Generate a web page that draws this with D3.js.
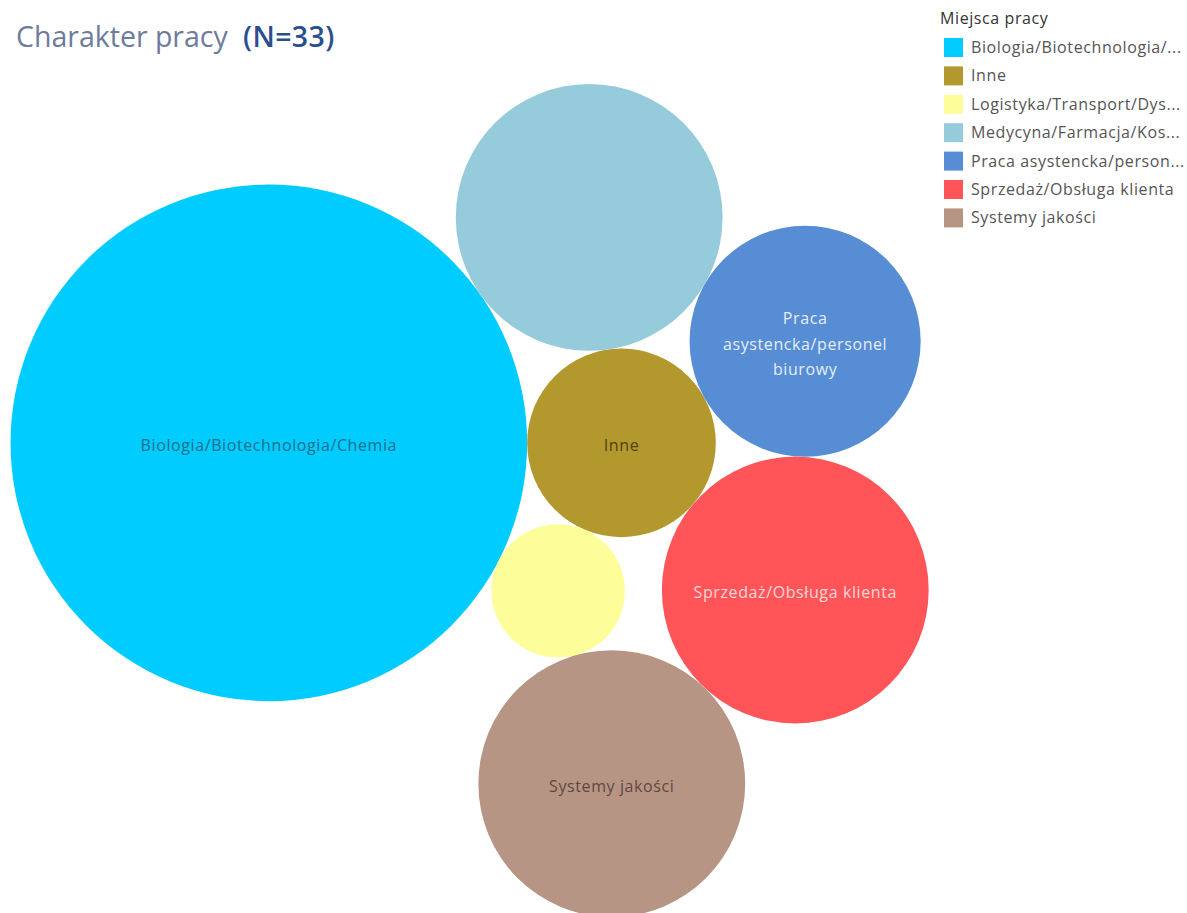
<!DOCTYPE html>
<html>
<head>
<meta charset="utf-8">
<script src="https://cdn.jsdelivr.net/npm/d3@7"></script>
<style>
  body { margin: 0; background: #fff; font-family: "Open Sans", "Noto Sans", sans-serif; }
  svg { display: block; }
</style>
</head>
<body>
<div id="graph"></div>
<script>
var categories = [
  'Biologia/Biotechnologia/Chemia',
  'Inne',
  'Logistyka/Transport/Dystrybucja',
  'Medycyna/Farmacja/Kosmetologia',
  'Praca asystencka/personel biurowy',
  'Sprzedaż/Obsługa klienta',
  'Systemy jakości'
]
var counts = [15, 2, 1, 4, 3, 4, 4]
var colors = ['#00ccff', '#b3982e', '#fdfd99', '#96cbdb', '#578dd4', '#ff5558', '#b79585']
var legendLabels = [
  'Biologia/Biotechnologia/...',
  'Inne',
  'Logistyka/Transport/Dys...',
  'Medycyna/Farmacja/Kos...',
  'Praca asystencka/person...',
  'Sprzedaż/Obsługa klienta',
  'Systemy jakości'
]
// labels Tableau kept inside the bubbles (empty = hidden)
var bubbleLabels = [
  ['Biologia/Biotechnologia/Chemia'],
  ['Inne'],
  [],
  [],
  ['Praca', 'asystencka/personel', 'biurowy'],
  ['Sprzedaż/Obsługa klienta'],
  ['Systemy jakości']
]
var labelColors = ['#1b6f8c', '#4d4112', '#555', '#555', '#e6eefa', '#ffd6d6', '#5e4840']
// which two already placed bubbles each bubble touches (front-chain order)
var touches = [null, null, [0, 1], [1, 0], [1, 3], [1, 4], [2, 5]]

var width = 1187, height = 913

var svg = d3.select('#graph').append('svg')
  .attr('width', width).attr('height', height)

svg.append('text')
  .attr('x', 16).attr('y', 47)
  .attr('fill', '#6d7c9c')
  .style('font-size', '28.5px')
  .text('Charakter pracy')
svg.append('text')
  .attr('x', 243).attr('y', 47)
  .attr('fill', '#2a4e8e')
  .style('font-size', '28.5px')
  .style('font-weight', 600)
  .style('letter-spacing', '0.4px')
  .text('(N=33)')

// bubble sizes: area ~ count
var r = d3.scaleSqrt().domain([0, 1]).range([0, 66.7])

var nodes = categories.map(function(d, i){
  return {name: d, value: counts[i], r: r(counts[i]), i: i}
})

// c touches a and b, on the left of a -> b (screen coords)
function place(a, b, c){
  var dx = b.x - a.x, dy = b.y - a.y
  var d = Math.sqrt(dx * dx + dy * dy)
  var da = a.r + c.r, db = b.r + c.r
  var t = (d * d + da * da - db * db) / (2 * d)
  var h = Math.sqrt(Math.max(0, da * da - t * t))
  var ux = dx / d, uy = dy / d
  c.x = a.x + t * ux - h * uy
  c.y = a.y + t * uy + h * ux
}

nodes[0].x = 0; nodes[0].y = 0
nodes[1].x = nodes[0].r + nodes[1].r; nodes[1].y = 0
nodes.forEach(function(d, i){
  if (touches[i]) place(nodes[touches[i][0]], nodes[touches[i][1]], d)
})

var minX = d3.min(nodes, d => d.x - d.r)
var maxX = d3.max(nodes, d => d.x + d.r)
var minY = d3.min(nodes, d => d.y - d.r)

var x = d3.scaleLinear().domain([minX, maxX]).range([10.5, 10.5 + maxX - minX])
var y = d3.scaleLinear().domain([minY, minY + 1]).range([84, 85])

var g = svg.selectAll('g.bubble').data(nodes).join('g')
  .attr('class', 'bubble')
  .attr('transform', d => 'translate(' + x(d.x) + ',' + y(d.y) + ')')

g.append('circle')
  .attr('r', d => d.r)
  .attr('fill', d => colors[d.i])

g.each(function(d){
  var lines = bubbleLabels[d.i]
  var t = d3.select(this).append('text')
    .attr('text-anchor', 'middle')
    .attr('fill', labelColors[d.i])
    .style('font-size', '16px')
    .style('letter-spacing', '0.6px')
  lines.forEach(function(l, j){
    t.append('tspan')
      .attr('x', 0)
      .attr('y', (j - (lines.length - 1) / 2) * 25.5 + 8.5)
      .text(l)
  })
})

// legend
var legend = svg.append('g').attr('transform', 'translate(940,0)')
legend.append('text')
  .attr('x', 0).attr('y', 24)
  .attr('fill', '#333')
  .style('font-size', '16px')
  .style('letter-spacing', '0.6px')
  .text('Miejsca pracy')

var item = legend.selectAll('g.item').data(legendLabels).join('g')
  .attr('class', 'item')
  .attr('transform', (d, i) => 'translate(0,' + (38 + i * 28.4) + ')')

item.append('rect')
  .attr('x', 4).attr('y', 0)
  .attr('width', 19).attr('height', 19)
  .attr('fill', (d, i) => colors[i])

item.append('text')
  .attr('x', 31).attr('y', 15)
  .attr('fill', '#555')
  .style('font-size', '16px')
  .style('letter-spacing', '0.6px')
  .text(d => d)
</script>
</body>
</html>
